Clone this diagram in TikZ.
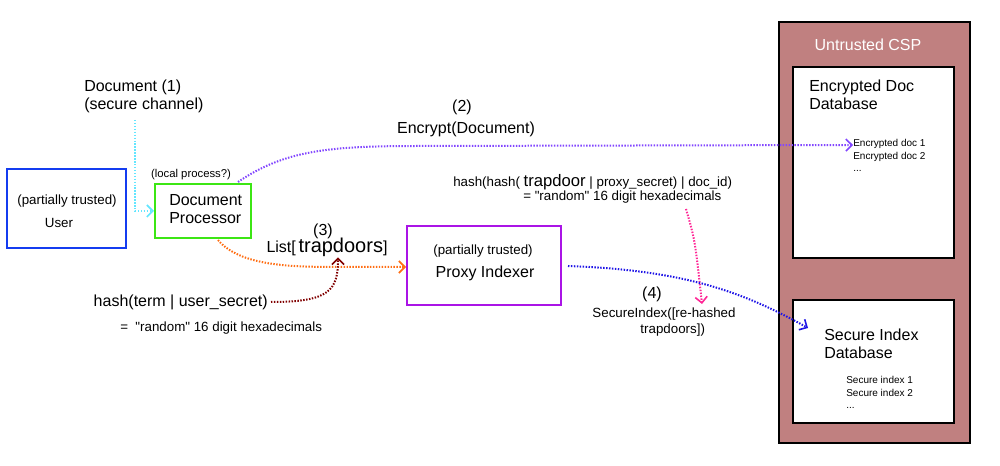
\documentclass[tikz,border=0pt]{standalone}
\usepackage{fontspec}
\setmainfont{Liberation Sans}[Ligatures=TeXOff]
\usetikzlibrary{arrows.meta}
\definecolor{cspred}{RGB}{192,128,128}
\definecolor{userblue}{RGB}{20,60,240}
\definecolor{procgreen}{RGB}{60,230,20}
\definecolor{proxypurple}{RGB}{170,20,230}
\definecolor{cyanline}{RGB}{100,230,255}
\definecolor{encline}{RGB}{130,70,255}
\definecolor{trapline}{RGB}{255,110,20}
\definecolor{hashline}{RGB}{128,0,0}
\definecolor{rehashline}{RGB}{255,40,150}
\definecolor{indexline}{RGB}{30,20,230}
\tikzset{
  txtbig/.style={inner sep=0pt, font=\fontsize{12}{13}\selectfont},
  txtmid/.style={inner sep=0pt, font=\fontsize{10}{12}\selectfont},
  txtsml/.style={inner sep=0pt, font=\fontsize{8.5}{11}\selectfont},
  txttiny/.style={inner sep=0pt, font=\fontsize{7.5}{9.5}\selectfont},
  box/.style={draw, line width=1.5pt, inner sep=0pt},
  flow/.style={line width=1.5pt, dash pattern=on 1.1pt off 1.1pt,
    -{Straight Barb[length=4.5pt,width=9pt,line width=1.2pt]}}
}

\begin{document}
\begin{tikzpicture}[x=0.75pt,y=-0.75pt]
    \useasboundingbox (0,0) rectangle (1000,466);
    % cloud side
    \node[box, fill=cspred, minimum width=143.25pt, minimum height=315.75pt] (csp) at (874.5,232.5) {};
    \node[txtbig, text=white] (csplabel) at (868,45) {Untrusted CSP};
    \node[box, line width=1.2pt, fill=white, minimum width=120.75pt, minimum height=143.25pt] (encdb) at (873.5,162.5) {};
    \node[txtbig, anchor=north west, align=left] (encdbtxt) at (809,80) {Encrypted Doc\\Database};
    \node[txttiny, anchor=north west, align=left] (encdocs) at (853,139) {Encrypted doc 1\\Encrypted doc 2\\...};
    \node[box, line width=1.2pt, fill=white, minimum width=120.75pt, minimum height=92.25pt] (secdb) at (873.5,361.5) {};
    \node[txtbig, anchor=north west, align=left] (secdbtxt) at (824,329) {Secure Index\\Database};
    \node[txttiny, anchor=north west, align=left] (secidx) at (846,376) {Secure index 1\\Secure index 2\\...};
    % user side
    \node[box, draw=userblue, minimum width=89.25pt, minimum height=59.25pt] (user) at (66.5,208.5) {};
    \node[txtmid] (usertrust) at (67,201) {(partially trusted)};
    \node[txtmid] (username) at (59,223) {User};
    \node[box, draw=procgreen, minimum width=72pt, minimum height=40.5pt] (proc) at (203,211) {};
    \node[txtbig, anchor=west, align=left] (proctxt) at (169,209) {Document\\Processor};
    \node[txtsml] (local) at (191,175) {(local process?)};
    \node[box, draw=proxypurple, minimum width=115.5pt, minimum height=59.25pt] (proxy) at (484,265.5) {};
    \node[txtmid] (proxytrust) at (483,251) {(partially trusted)};
    \node[txtbig] (proxyname) at (485,273) {Proxy Indexer};
    % labels
    \node[txtbig, anchor=north west, align=left] (doc1) at (84,80) {Document (1)\\(secure channel)};
    \node[txtbig] (step2) at (462,107) {(2)};
    \node[txtbig] (encdoc) at (466,129) {Encrypt(Document)};
    \node[txtbig] (step3) at (323,231) {(3)};
    \node[txtbig, anchor=base] (trapdoors) at (327,253) {List[\,{\fontsize{15}{15}\selectfont trapdoors}]};
    \node[txtbig, anchor=east] (userhash) at (268,302) {hash(term | user\_secret)};
    \node[txtmid, anchor=west] (userhex) at (120,328) {=~~"random" 16 digit hexadecimals};
    \node[txtmid, anchor=west] (proxyhash) at (453,182) {hash(hash( {\fontsize{12.5}{12}\selectfont trapdoor} | proxy\_secret) | doc\_id)};
    \node[txtmid, anchor=west] (proxyhex) at (523,197) {= "random" 16 digit hexadecimals};
    \node[txtbig] (step4) at (652,294) {(4)};
    \node[txtmid, align=left] (secidxlabel) at (664,322) {SecureIndex([re-hashed\\\hspace*{3.6em}trapdoors])};
    % connectors
    \coordinate (cyanstart) at (135,120);
    \coordinate (encstart) at (238,182);
    \coordinate (trapstart) at (218,240);
    \coordinate (rehashstart) at (686,209);
    \coordinate (rehashend) at (702,304);
    \draw[flow, cyanline] (cyanstart) |- (proc.west);
    \draw[flow, encline] (encstart) .. controls (285,150) and (330,146) .. (420,146) -- (encdocs.west |- 0,145);
    \draw[flow, trapline] (trapstart) .. controls (240,266) and (290,267) .. (340,267) -- (proxy.west |- 0,267);
    \draw[flow, hashline] (userhash.east) ++(3,0) .. controls (330,302) and (338,290) .. (trapdoors.south -| 338,0);
    \draw[flow, rehashline] (rehashstart) .. controls (695,240) .. (rehashend);
    \draw[flow, indexline] (proxy.east |- 0,266) ++(6,0) .. controls (680,270) and (740,290) .. (808,328);
\end{tikzpicture}
\end{document}
